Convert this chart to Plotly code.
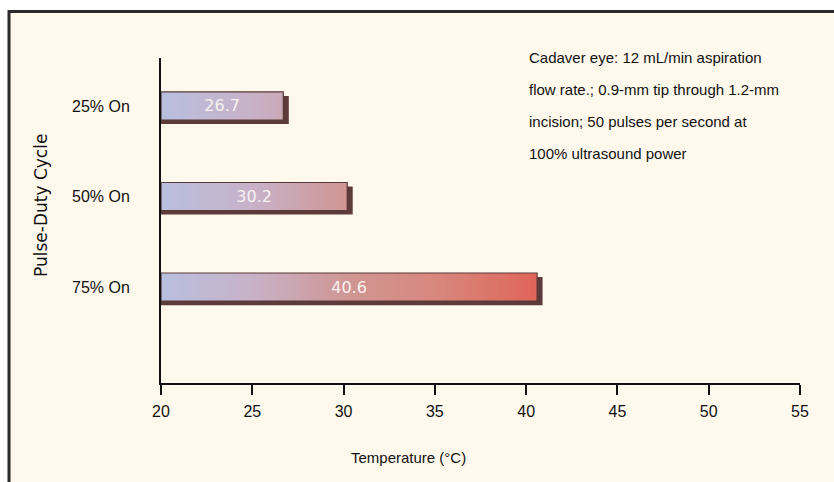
import numpy as np
import plotly.graph_objects as go

# ---- data ----
categories = ["25% On", "50% On", "75% On"]
temps = [26.7, 30.2, 40.6]
x_ticks = [20, 25, 30, 35, 40, 45, 50, 55]
note_lines = [
    "Cadaver eye: 12 mL/min aspiration",
    "flow rate.; 0.9-mm tip through 1.2-mm",
    "incision; 50 pulses per second at",
    "100% ultrasound power",
]
x_title = "Temperature (\u00b0C)"
y_title = "Pulse-Duty Cycle"

# ---- style ----
W, H = 834, 482
ML, MR, MT, MB = 161, 34, 58, 99
PW, PH = W - ML - MR, H - MT - MB
XMIN, XMAX = 20, 55
BAR_W = 0.31
SHADOW_DY = 0.045
SHADOW_DX = 0.3
CREAM = "#FFF9ED"
FONT = "Liberation Sans, Arial, sans-serif"

def px2x(px):
    return (px - ML) / PW

def px2y(py):
    return (MT + PH - py) / PH

# gradient stops along temperature axis
stops_t = [20, 22, 25, 30, 35, 38, 41]
stops_c = [(183, 192, 224), (192, 186, 214), (200, 178, 200), (208, 152, 150),
           (216, 136, 126), (220, 118, 106), (226, 98, 88)]

def grad_color(t):
    r = np.interp(t, stops_t, [c[0] for c in stops_c])
    g = np.interp(t, stops_t, [c[1] for c in stops_c])
    b = np.interp(t, stops_t, [c[2] for c in stops_c])
    return f"rgb({int(r)},{int(g)},{int(b)})"

fig = go.Figure()

# shadow bars
fig.add_trace(go.Bar(
    y=categories, x=[v - XMIN + SHADOW_DX for v in temps], base=[XMIN] * len(temps),
    orientation="h", width=BAR_W, offset=-BAR_W / 2 + SHADOW_DY,
    marker=dict(color="#5E3B3B", line=dict(width=0)),
    hoverinfo="skip", showlegend=False,
))

# gradient face, built from segments of each bar
seg_y, seg_base, seg_len, seg_col = [], [], [], []
step = 0.2
for cat, v in zip(categories, temps):
    edges = np.arange(XMIN, v, step)
    for e in edges:
        end = min(e + step, v)
        seg_y.append(cat)
        seg_base.append(e)
        seg_len.append(min(end - e + 0.05, v - e))
        seg_col.append(grad_color((e + end) / 2))
fig.add_trace(go.Bar(
    y=seg_y, x=seg_len, base=seg_base, orientation="h",
    width=BAR_W, offset=-BAR_W / 2,
    marker=dict(color=seg_col, line=dict(width=0)),
    hoverinfo="skip", showlegend=False,
))

# outline + value labels
fig.add_trace(go.Bar(
    y=categories, x=[v - XMIN for v in temps], base=[XMIN] * len(temps),
    orientation="h", width=BAR_W, offset=-BAR_W / 2,
    marker=dict(color="rgba(0,0,0,0)", line=dict(color="#5A3838", width=1.2)),
    text=[f"{v:.1f}" for v in temps], textposition="inside",
    insidetextanchor="middle",
    textfont=dict(family="DejaVu Sans, sans-serif", size=16, color="#F8F1F1"),
    showlegend=False,
))

fig.update_layout(
    width=W, height=H,
    margin=dict(l=ML, r=MR, t=MT, b=MB),
    paper_bgcolor="white", plot_bgcolor="rgba(0,0,0,0)",
    barmode="overlay",
    font=dict(family=FONT, size=15, color="#111111"),
    xaxis=dict(
        range=[XMIN, XMAX], tickvals=x_ticks, ticks="outside", ticklen=10,
        tickwidth=2, tickcolor="#111", showline=True, linewidth=2, linecolor="#111",
        showgrid=False, zeroline=False, tickfont=dict(size=16),
        ticklabelstandoff=3,
    ),
    yaxis=dict(
        categoryorder="array", categoryarray=categories,
        range=[2.0 + 1.06, -0.53], showline=True, linewidth=2, linecolor="#111",
        ticks="", showgrid=False, zeroline=False, tickfont=dict(size=16),
        ticklabelstandoff=26,
    ),
)

# cream frame
fig.add_shape(type="rect", xref="paper", yref="paper", layer="below",
              x0=px2x(9), x1=px2x(W + 20), y0=px2y(H + 20), y1=px2y(11.5),
              fillcolor=CREAM, line=dict(color="#2A2A2A", width=3))

# note text
for i, line in enumerate(note_lines):
    fig.add_annotation(xref="paper", yref="paper", x=px2x(527), y=px2y(57 + i * 32),
                       text=line, showarrow=False, xanchor="left", yanchor="middle",
                       font=dict(family=FONT, size=15, color="#111"))

# axis titles
fig.add_annotation(xref="paper", yref="paper", x=px2x(408), y=px2y(457),
                   text=x_title, showarrow=False, xanchor="center", yanchor="middle",
                   font=dict(family=FONT, size=15, color="#111"))
fig.add_annotation(xref="paper", yref="paper", x=px2x(41), y=px2y(206),
                   text=y_title, showarrow=False, textangle=-90,
                   xanchor="center", yanchor="middle",
                   font=dict(family="DejaVu Sans", size=17, color="#111"))

fig.write_html("out.html")
